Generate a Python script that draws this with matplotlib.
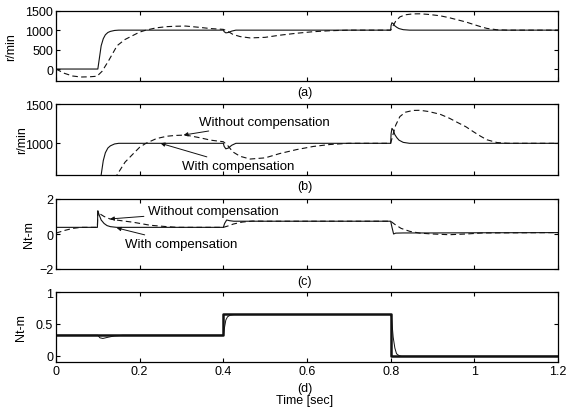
import matplotlib
matplotlib.use("Agg")
import matplotlib.pyplot as plt

plt.rcParams['font.family'] = ['Liberation Sans', 'DejaVu Sans']
plt.rcParams['font.size'] = 9

# speed, with compensation (solid)
t_spd_w = [0, 0.1, 0.104, 0.108, 0.113, 0.118, 0.124, 0.13, 0.14, 0.15, 0.4, 0.402, 0.406,
           0.412, 0.42, 0.43, 0.8, 0.801, 0.803, 0.806, 0.81, 0.815, 0.82, 0.83, 0.845, 1.2]
spd_w = [0, 0, 300, 600, 780, 880, 940, 968, 992, 1000, 1000, 960, 930,
         940, 975, 1000, 1000, 1120, 1190, 1170, 1110, 1070, 1040, 1012, 1000, 1000]

# speed, without compensation (dashed)
t_spd_wo = [0, 0.02, 0.04, 0.06, 0.08, 0.098, 0.11, 0.125, 0.146, 0.165, 0.184, 0.2, 0.215,
            0.24, 0.265, 0.285, 0.31, 0.34, 0.37, 0.4, 0.41, 0.423, 0.44, 0.464, 0.5, 0.535,
            0.575, 0.615, 0.655, 0.7, 0.8, 0.805, 0.812, 0.822, 0.835, 0.853, 0.87, 0.89,
            0.918, 0.94, 0.958, 0.98, 0.997, 1.015, 1.03, 1.054, 1.08, 1.2]
spd_wo = [0, -110, -180, -205, -200, -185, -60, 200, 600, 760, 864, 950, 1000,
          1060, 1090, 1100, 1105, 1075, 1040, 1020, 975, 890, 835, 800, 815, 870,
          920, 960, 985, 1000, 1000, 1100, 1230, 1340, 1395, 1418, 1420, 1405,
          1370, 1320, 1270, 1210, 1150, 1090, 1045, 1010, 1000, 1000]

# motor torque, with compensation (solid)
t_trq_w = [0, 0.099, 0.1, 0.103, 0.108, 0.115, 0.122, 0.13, 0.145, 0.4, 0.403, 0.408, 0.415,
           0.425, 0.8, 0.803, 0.807, 0.812, 0.83, 0.9, 1.0, 1.2]
trq_w = [0.38, 0.38, 1.33, 1.1, 0.8, 0.6, 0.48, 0.42, 0.38, 0.38, 0.6, 0.8, 0.76,
         0.73, 0.73, 0.4, 0.0, 0.05, 0.06, 0.06, 0.07, 0.08]

# motor torque, without compensation (dashed)
t_trq_wo = [0, 0.02, 0.04, 0.06, 0.099, 0.1, 0.105, 0.115, 0.129, 0.15, 0.185, 0.225, 0.26,
            0.29, 0.4, 0.41, 0.424, 0.445, 0.47, 0.5, 0.8, 0.81, 0.825, 0.846, 0.87, 0.9,
            0.94, 0.98, 1.02, 1.2]
trq_wo = [0.05, 0.2, 0.32, 0.38, 0.38, 1.3, 1.15, 1.0, 0.86, 0.78, 0.67, 0.5, 0.43,
          0.38, 0.38, 0.45, 0.57, 0.68, 0.74, 0.73, 0.73, 0.55, 0.32, 0.15, 0.05, 0.0,
          -0.04, 0.0, 0.06, 0.08]

# load torque (d)
t_load = [0, 0.4, 0.4, 0.8, 0.8, 1.2]
load = [0.32, 0.32, 0.65, 0.65, -0.01, -0.01]
t_est = [0, 0.1, 0.105, 0.112, 0.125, 0.14, 0.16, 0.4, 0.403, 0.406, 0.41, 0.416, 0.425,
         0.8, 0.802, 0.806, 0.81, 0.814, 0.82, 0.826, 1.2]
est = [0.32, 0.32, 0.28, 0.27, 0.29, 0.31, 0.32, 0.32, 0.45, 0.56, 0.61, 0.635, 0.645,
       0.645, 0.6, 0.29, 0.12, 0.03, 0.0, -0.01, -0.01]

W, H = 569, 414
fig = plt.figure(figsize=(W / 100, H / 100), dpi=100)

def make_ax(top, bottom):
    ax = fig.add_axes([56 / W, 1 - bottom / H, 502 / W, (bottom - top) / H])
    ax.set_xlim(0, 1.2)
    ax.set_xticks([0, 0.2, 0.4, 0.6, 0.8, 1.0, 1.2])
    ax.tick_params(direction='in', top=True, right=True, length=3, width=0.8, pad=2)
    for s in ax.spines.values():
        s.set_linewidth(0.9)
    return ax

dash = (0, (5, 3))
lc = '#111111'

ax1 = make_ax(11.7, 81.7)
ax1.plot(t_spd_w, spd_w, color=lc, lw=0.8)
ax1.plot(t_spd_wo, spd_wo, color=lc, lw=0.8, linestyle=dash)
ax1.set_ylim(-300, 1500)
ax1.set_yticks([0, 500, 1000, 1500])
ax1.set_xticklabels([])
ax1.set_ylabel('r/min')
ax1.yaxis.set_label_coords(-0.078, 0.5)

ax2 = make_ax(105, 176)
ax2.plot(t_spd_w, spd_w, color=lc, lw=0.8)
ax2.plot(t_spd_wo, spd_wo, color=lc, lw=0.8, linestyle=dash)
ax2.set_ylim(597, 1500)
ax2.set_yticks([1000, 1500])
ax2.set_xticklabels([])
ax2.set_ylabel('r/min')
ax2.yaxis.set_label_coords(-0.056, 0.5)
arr = dict(arrowstyle='-|>', color=lc, lw=0.7, mutation_scale=6, shrinkA=1, shrinkB=0)
ax2.annotate('Without compensation', xy=(0.305, 1105), xytext=(0.342, 1271),
             ha='left', va='center', fontsize=9.5, arrowprops=arr)
ax2.annotate('With compensation', xy=(0.25, 1000), xytext=(0.301, 711),
             ha='left', va='center', fontsize=9.5, arrowprops=arr)

ax3 = make_ax(200, 270)
ax3.plot(t_trq_w, trq_w, color=lc, lw=0.8)
ax3.plot(t_trq_wo, trq_wo, color=lc, lw=0.8, linestyle=dash)
ax3.set_ylim(-2, 2)
ax3.set_yticks([-2, 0, 2])
ax3.set_xticklabels([])
ax3.set_ylabel('Nt-m')
ax3.yaxis.set_label_coords(-0.042, 0.5)
ax3.annotate('Without compensation', xy=(0.129, 0.86), xytext=(0.22, 1.31),
             ha='left', va='center', fontsize=9.5, arrowprops=arr)
ax3.annotate('With compensation', xy=(0.145, 0.35), xytext=(0.165, -0.57),
             ha='left', va='center', fontsize=9.5, arrowprops=arr)

ax4 = make_ax(293, 363)
ax4.plot(t_load, load, color=lc, lw=1.8)
ax4.plot(t_est, est, color=lc, lw=0.7)
ax4.set_ylim(-0.1, 1)
ax4.set_yticks([0, 0.5, 1])
ax4.set_yticklabels(['0', '0.5', '1'])
ax4.set_xticklabels(['0', '0.2', '0.4', '0.6', '0.8', '1', '1.2'])
ax4.set_ylabel('Nt-m')
ax4.yaxis.set_label_coords(-0.058, 0.5)

for lab, y in [('(a)', 93), ('(b)', 187), ('(c)', 282), ('(d)', 389)]:
    fig.text(305 / W, 1 - y / H, lab, ha='center', va='center', fontsize=9)
fig.text(305 / W, 1 - 401 / H, 'Time [sec]', ha='center', va='center', fontsize=9)

fig.savefig('out.png', dpi=100)
